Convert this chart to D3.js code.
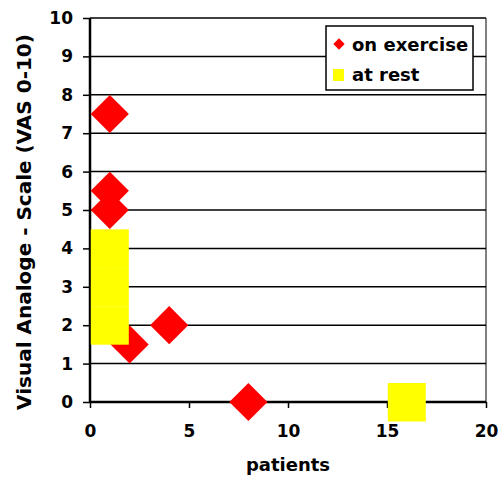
<!DOCTYPE html>
<html><head><meta charset="utf-8">
<script src="https://cdn.jsdelivr.net/npm/d3@7"></script>
<style>body{margin:0;background:#fff}svg{display:block}text{font-family:"DejaVu Sans",Verdana,sans-serif;font-weight:bold}</style>
</head><body>
<script>
const exerciseX = [1, 1, 1, 1, 1, 2, 4, 8];
const exerciseY = [7.5, 5.5, 5, 4, 3, 1.5, 2, 0];
const restX = [1, 1, 1, 16];
const restY = [4, 3, 2, 0];
const xTicks = [0, 5, 10, 15, 20];
const yTicks = [0,1,2,3,4,5,6,7,8,9,10];
const seriesNames = ["on exercise", "at rest"];

const W = 500, H = 478;
const L = 90, R = 486, T = 18, B = 402;
const FS = "17px";
const svg = d3.select("body").append("svg").attr("width", W).attr("height", H);
const x = d3.scaleLinear().domain([0, 20]).range([L, R]);
const y = d3.scaleLinear().domain([0, 10]).range([B, T]);

// gridlines
svg.append("g").selectAll("line").data(yTicks.filter(d=>d>0)).join("line")
  .attr("x1", L).attr("x2", R).attr("y1", d=>y(d)).attr("y2", d=>y(d))
  .attr("stroke", "#000").attr("stroke-width", 1.5);
// right border
svg.append("line").attr("x1", R).attr("x2", R).attr("y1", T).attr("y2", B).attr("stroke", "#000").attr("stroke-width", 1);

// axes
const yAxis = svg.append("g").attr("transform", `translate(${L},0)`)
  .call(d3.axisLeft(y).tickValues(yTicks).tickSize(7).tickPadding(10).tickFormat(d3.format("d")));
const xAxis = svg.append("g").attr("transform", `translate(0,${B})`)
  .call(d3.axisBottom(x).tickValues(xTicks).tickSize(6).tickPadding(17).tickFormat(d3.format("d")));
[yAxis, xAxis].forEach(a => {
  a.select(".domain").attr("stroke", "#000").attr("stroke-width", 2.5);
  a.selectAll(".tick line").attr("stroke", "#000").attr("stroke-width", 1.5);
  a.selectAll("text").attr("fill", "#000").style("font-size", FS).style("font-family", '"DejaVu Sans",Verdana,sans-serif').style("font-weight", "bold");
});
yAxis.select(".domain").attr("d", `M0,${B}V${T}`);
xAxis.select(".domain").attr("d", `M${L},0H${R}`);

// exercise diamonds
const ex = exerciseX.map((d,i)=>({x:d, y:exerciseY[i]}));
const diamond = d3.symbol().type(d3.symbolSquare).size(27*27);
svg.append("g").selectAll("path").data(ex).join("path")
  .attr("d", diamond)
  .attr("transform", d=>`translate(${x(d.x)},${y(d.y)}) rotate(45)`)
  .attr("fill", "#ff0000");

// rest squares
const rs = restX.map((d,i)=>({x:d, y:restY[i]}));
svg.append("g").selectAll("rect").data(rs).join("rect")
  .attr("x", d=>x(d.x)-19).attr("y", d=>y(d.y)-19).attr("width", 38).attr("height", 38.5)
  .attr("fill", "#ffff00");

// legend
const lg = svg.append("g");
lg.append("rect").attr("x", 326).attr("y", 26).attr("width", 147).attr("height", 64)
  .attr("fill", "#fff").attr("stroke", "#000").attr("stroke-width", 1.5);
lg.append("path").attr("d", d3.symbol().type(d3.symbolSquare).size(64))
  .attr("transform", "translate(339,44) rotate(45)").attr("fill", "#ff0000");
lg.append("rect").attr("x", 333).attr("y", 69).attr("width", 11).attr("height", 12).attr("fill", "#ffff00");
lg.selectAll("text").data(seriesNames).join("text")
  .attr("x", 352).attr("y", (d,i)=>51 + i*30)
  .style("font-size", "18px").text(d=>d);

// axis titles
svg.append("text").attr("x", 288).attr("y", 471).attr("text-anchor", "middle")
  .style("font-size", "18px").text("patients");
svg.append("text").attr("transform", "translate(31,222) rotate(-90)").attr("text-anchor", "middle")
  .style("font-size", "20px").text("Visual Analoge - Scale (VAS 0-10)");
</script>
</body></html>
